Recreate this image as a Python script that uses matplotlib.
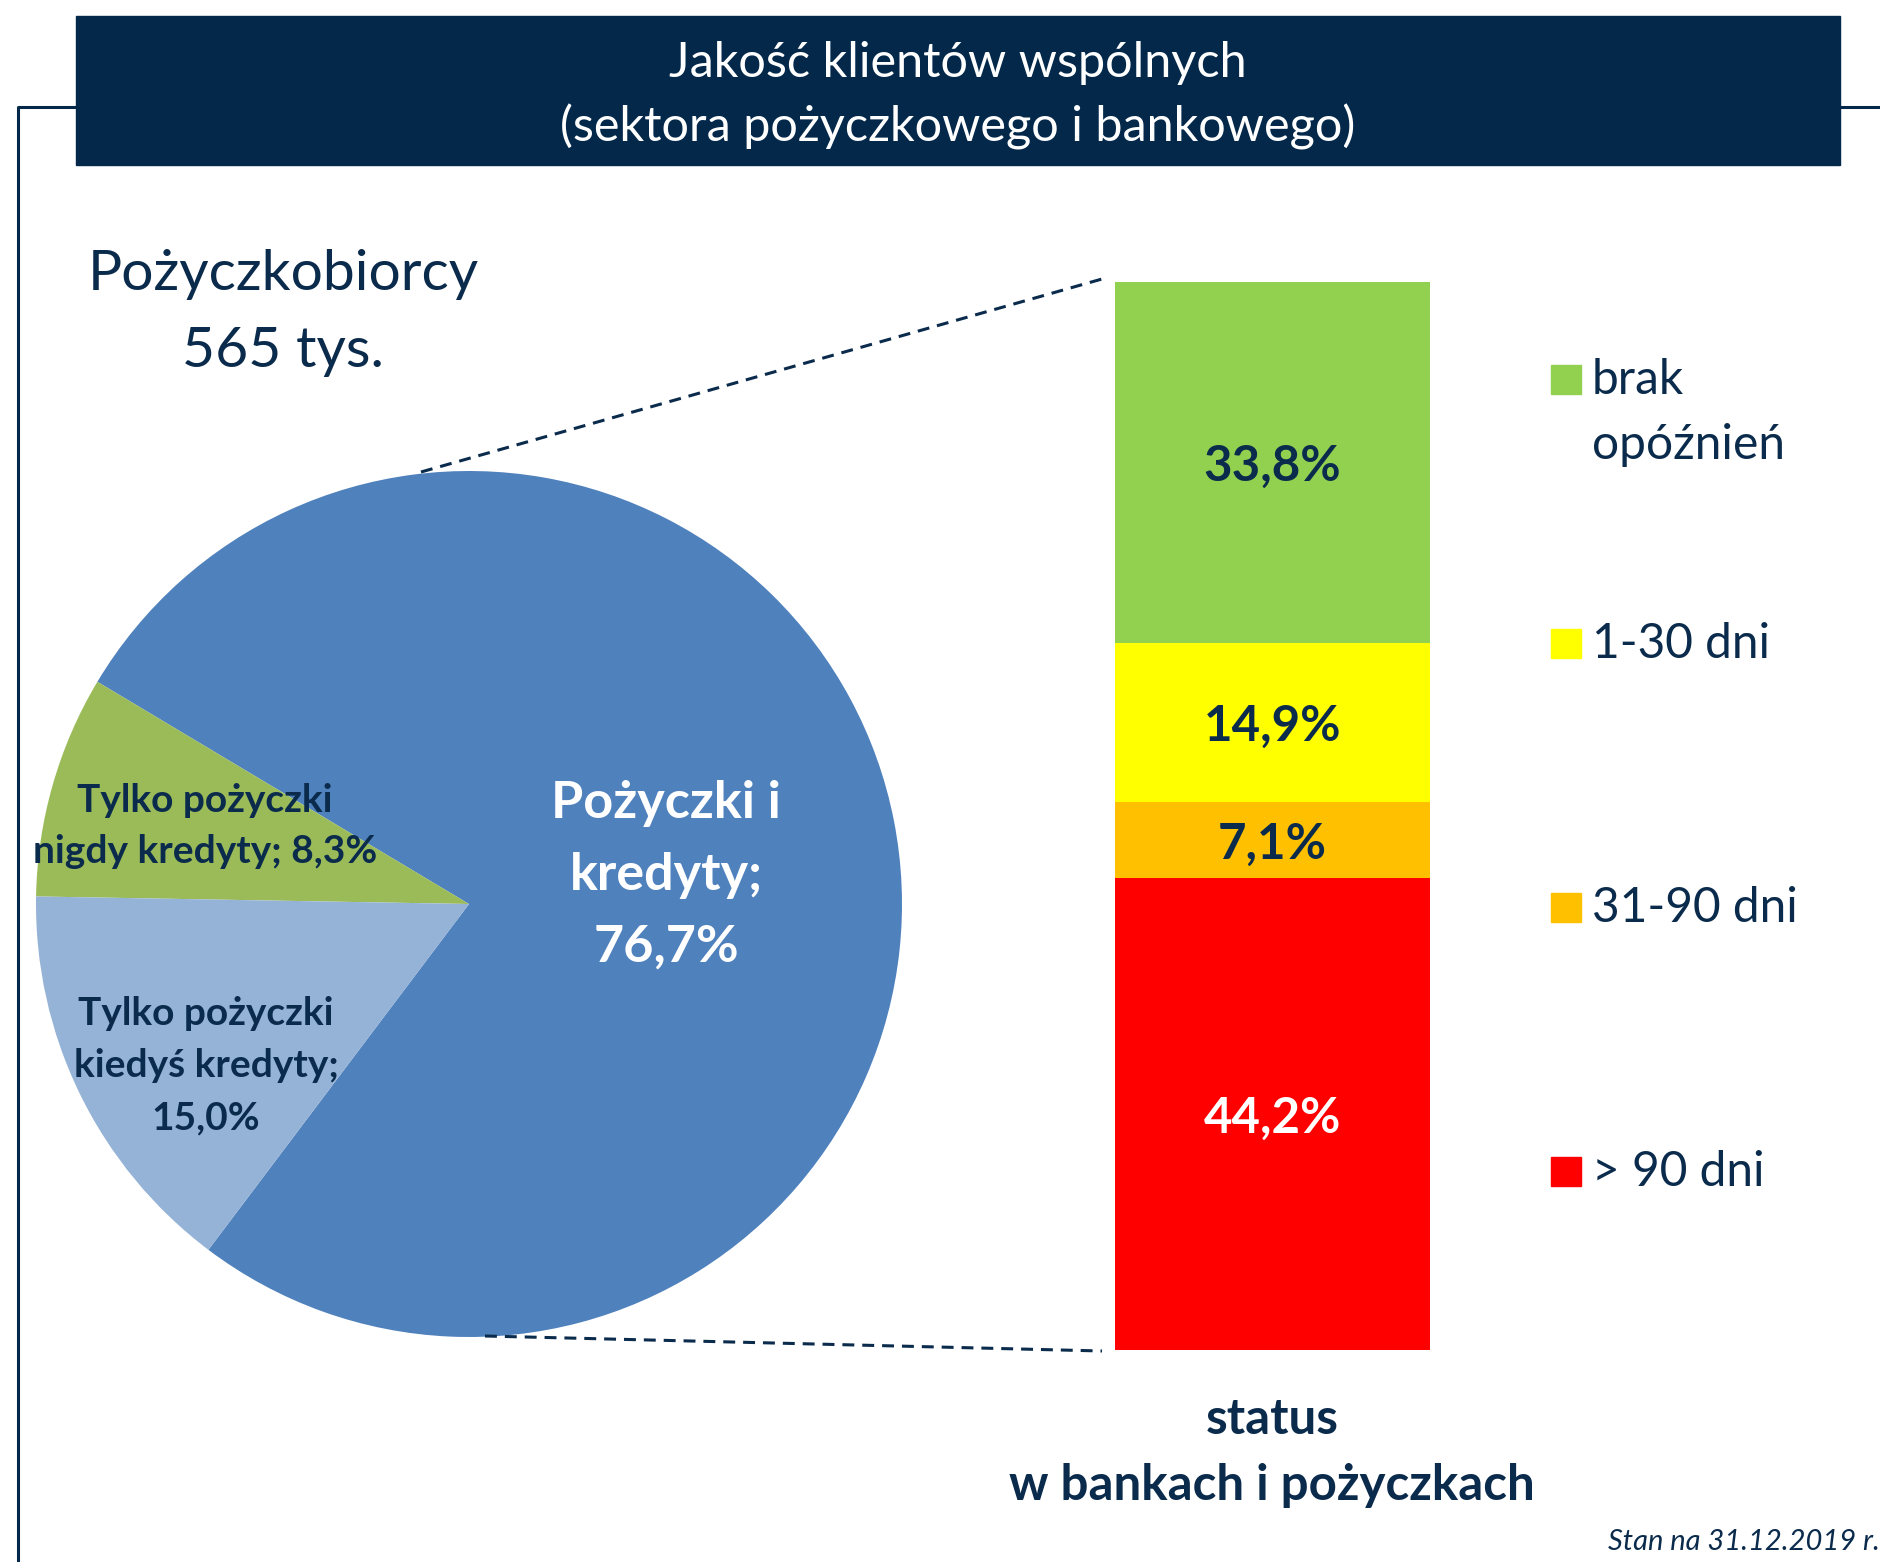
import matplotlib.pyplot as plt
from matplotlib.patches import Rectangle
from matplotlib.lines import Line2D
from matplotlib.transforms import Affine2D

plt.rcParams['font.family'] = ['Lato', 'DejaVu Sans']

# data
pie_labels = ['Pożyczki i\nkredyty;\n76,7%',
              'Tylko pożyczki\nnigdy kredyty; 8,3%',
              'Tylko pożyczki\nkiedyś kredyty;\n15,0%']
pie_values = [76.7, 8.3, 15.0]
pie_colors = ['#4F81BD', '#9BBB59', '#95B3D7']

status_labels = ['> 90 dni', '31-90 dni', '1-30 dni', 'brak\nopóźnień']
status_values = [44.2, 7.1, 14.9, 33.8]
status_colors = ['#FF0000', '#FFC000', '#FFFF00', '#92D050']
status_text = ['white', '#0B2B4C', '#0B2B4C', '#0B2B4C']

navy = '#03284A'
ink = '#0B2B4C'

W, H = 1881, 1562
fig = plt.figure(figsize=(W / 100, H / 100), dpi=100)
# pixel coordinates, origin top-left
px = Affine2D().scale(1 / W, -1 / H).translate(0, 1) + fig.transFigure

# title box and frame
fig.patches.append(Rectangle((76, 16), 1764, 149, transform=px, color=navy))
fig.lines.append(Line2D([18, 18, 76], [1562, 107, 107], transform=px, color=navy, lw=2.2))
fig.lines.append(Line2D([1840, 1881], [107, 107], transform=px, color=navy, lw=2.2))
fig.text(958, 77, 'Jakość klientów wspólnych', transform=px, color='white',
         fontsize=35, ha='center', va='baseline')
fig.text(958, 141, '(sektora pożyczkowego i bankowego)', transform=px, color='white',
         fontsize=35, ha='center', va='baseline')

fig.text(283, 290, 'Pożyczkobiorcy', transform=px, color=ink, fontsize=41,
         ha='center', va='baseline')
fig.text(283, 367, '565 tys.', transform=px, color=ink, fontsize=41,
         ha='center', va='baseline')

# pie
cx, cy, r = 469, 904, 433
ax_pie = fig.add_axes([(cx - r) / W, 1 - (cy + r) / H, 2 * r / W, 2 * r / H])
ax_pie.pie(pie_values, colors=pie_colors, startangle=233, counterclock=True,
           wedgeprops=dict(linewidth=0))
ax_pie.set_xlim(-1, 1)
ax_pie.set_ylim(-1, 1)
ax_pie.axis('off')

# label anchors: (x centre, first baseline, line step, size, colour)
pie_text_pos = [(666, 818, 72, 37.5, 'white'),
                (205, 812, 51, 28, ink),
                (206, 1025, 52, 28, ink)]
for lab, (x, y0, step, fs, col) in zip(pie_labels, pie_text_pos):
    for i, line in enumerate(lab.split('\n')):
        fig.text(x, y0 + i * step, line, transform=px, color=col, fontsize=fs,
                 fontweight='bold', ha='center', va='baseline')

# stacked bar
ax_bar = fig.add_axes([1115 / W, 1 - 1350 / H, 315 / W, 1068 / H])
bottom = 0
for v, c, tc in zip(status_values, status_colors, status_text):
    ax_bar.bar(0, v, width=1, bottom=bottom, color=c, linewidth=0)
    ax_bar.text(0, bottom + v / 2, f'{v:.1f}%'.replace('.', ','), color=tc,
                fontsize=35.5, fontweight='bold', ha='center', va='center_baseline')
    bottom += v
ax_bar.set_xlim(-0.5, 0.5)
ax_bar.set_ylim(0, sum(status_values))
ax_bar.axis('off')

# dashed connectors
fig.lines.append(Line2D([421, 1102], [472, 279], transform=px, color=ink, lw=2.2,
                        linestyle=(0, (3.9, 2.6))))
fig.lines.append(Line2D([485, 1102], [1336, 1351], transform=px, color=ink, lw=2.2,
                        linestyle=(0, (3.9, 2.6))))

# legend, top to bottom
for i, (lab, c) in enumerate(zip(status_labels[::-1], status_colors[::-1])):
    base = 394 + i * 264
    fig.patches.append(Rectangle((1551, base - 29), 30, 29, transform=px, color=c))
    for j, line in enumerate(lab.split('\n')):
        fig.text(1592, base + j * 65, line, transform=px, color=ink, fontsize=34.5,
                 ha='left', va='baseline')

fig.text(1272, 1434, 'status', transform=px, color=ink, fontsize=35.5,
         fontweight='bold', ha='center', va='baseline')
fig.text(1272, 1500, 'w bankach i pożyczkach', transform=px, color=ink, fontsize=35.5,
         fontweight='bold', ha='center', va='baseline')
fig.text(1880, 1550, 'Stan na 31.12.2019 r.', transform=px, color=ink, fontsize=21,
         fontstyle='italic', ha='right', va='baseline')

fig.savefig('out.png', dpi=100)
